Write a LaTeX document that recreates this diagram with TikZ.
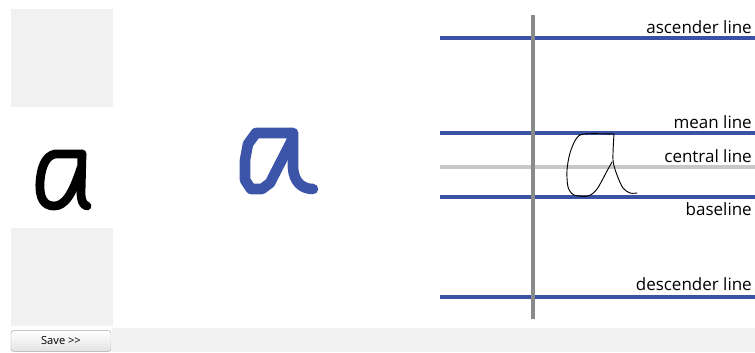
\documentclass[tikz,border=0pt]{standalone}
\usepackage{fontspec}
\setmainfont{Open Sans}
\definecolor{guideBlue}{HTML}{3A52A3}
\definecolor{penBlue}{HTML}{3C55A8}
\definecolor{panelGray}{HTML}{F1F1F1}
\definecolor{midGray}{HTML}{C8C8C8}
\definecolor{axisGray}{HTML}{8A8A8A}
\usetikzlibrary{positioning}

\begin{document}
\begin{tikzpicture}[x=0.03cm, y=-0.03cm,
  guide/.style={guideBlue, line width=3pt},
  label/.style={anchor=base east, inner sep=0pt, font=\fontsize{14.5}{16}\selectfont},
  inkblack/.style={black, line width=7.5pt, line cap=round, line join=round},
  inkblue/.style={penBlue, line width=9pt, line cap=round, line join=round},
  inkthin/.style={black, line width=0.8pt, line cap=round, line join=round}]
  \useasboundingbox (0,0) rectangle (755,352);
  % left panels and bottom bar
  \fill[panelGray] (11,9) rectangle (113,107);
  \fill[panelGray] (11,228) rectangle (113,326);
  \fill[panelGray] (112,328) rectangle (755,352);
  \node[draw=gray!70, rounded corners=2pt, top color=white, bottom color=gray!22,
    minimum width=3cm, minimum height=0.62cm, inner sep=0pt,
    font=\fontsize{9.5}{10}\selectfont] (savebtn) at (61,341) {Save {>}{>}};
  % black sample
  \draw[inkblack] (82,154) -- (55,154) .. controls (45,156) and (41,168) .. (40,182)
    .. controls (39,198) and (44,206) .. (54,206) .. controls (64,206) and (72,196) .. (81,168);
  \draw[inkblack] (82,154) -- (81,192) .. controls (81,201) and (83,205) .. (87,206);
  % blue sample
  \draw[inkblue] (293,133) -- (256,133) -- (248,144) -- (245,160) -- (245,180)
    -- (251,189) -- (262,189) -- (270,183) -- (292,140);
  \draw[inkblue] (293,133) -- (293,168) .. controls (294,182) and (302,189) .. (313,189);
  % guide lines
  \draw[guide] (440,38) -- (755,38);
  \draw[guide] (440,133) -- (755,133);
  \draw[midGray, line width=3.5pt] (440,167) -- (755,167);
  \draw[guide] (440,197) -- (755,197);
  \draw[guide] (440,297) -- (755,297);
  \draw[axisGray, line width=3.5pt] (533,15) -- (533,319);
  \node[label] (ascender) at (752,33) {ascender line};
  \node[label] (mean) at (752,128) {mean line};
  \node[label] (central) at (752,162) {central line};
  \node[label] (base) at (752,215) {baseline};
  \node[label] (descender) at (752,290) {descender line};
  % thin sample
  \draw[inkthin] plot[smooth] coordinates {(614,134) (584,134) (576,139) (570,153)
    (567,170) (568,187) (574,195) (588,196) (597,189) (607,171) (612,162)};
  \draw[inkthin] plot[smooth] coordinates {(614,134) (613,160) (617,175) (623,188) (630,193) (637,193)};
\end{tikzpicture}
\end{document}
